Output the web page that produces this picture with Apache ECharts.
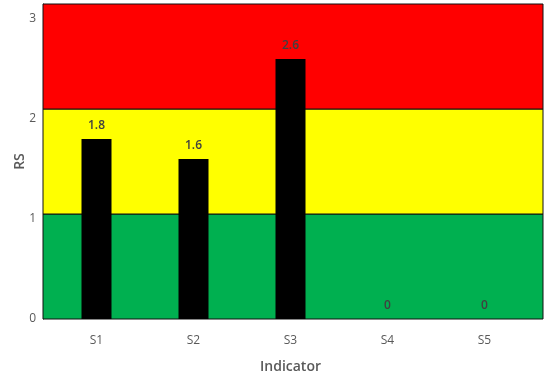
<!DOCTYPE html>
<html>
<head>
<meta charset="utf-8">
<script src="https://cdn.jsdelivr.net/npm/echarts@6/dist/echarts.min.js"></script>
<style>
  html, body { margin: 0; padding: 0; background: #fff; }
  #chart { width: 545px; height: 373px; }
</style>
</head>
<body>
<div id="chart"></div>
<script>
// Indicator scores
const categories = ['S1', 'S2', 'S3', 'S4', 'S5'];
const rsValues = [1.8, 1.6, 2.6, 0, 0];

// Rating bands (low / medium / high) and the value axis range
const bandEdges = [0, 1.05, 2.1, 3.15];
const bandColors = ['#00B050', '#FFFF00', '#FF0000'];
const yTicks = [0, 1, 2, 3];

const FONT = 'Open Sans';
const AXIS_GREY = '#595959';

const bandAreas = bandColors.map((c, i) => [
  { yAxis: bandEdges[i], itemStyle: { color: c } },
  { yAxis: bandEdges[i + 1] }
]);

const chart = echarts.init(document.getElementById('chart'), null, { renderer: 'canvas' });
chart.setOption({
  animation: false,
  textStyle: { fontFamily: FONT },
  grid: [
    { left: 43, right: 2, top: 4, bottom: 54, containLabel: false, outerBoundsMode: 'none' },
    { left: 48, right: 12, top: 4, bottom: 54, containLabel: false, outerBoundsMode: 'none' }
  ],
  xAxis: [
    { gridIndex: 0, type: 'value', min: 0, max: 1, show: false },
    {
      gridIndex: 1, type: 'category', data: categories,
      axisLine: { show: false }, axisTick: { show: false },
      axisLabel: { color: AXIS_GREY, fontSize: 12, margin: 16, fontFamily: FONT },
      name: 'Indicator', nameLocation: 'middle', nameGap: 41,
      nameTextStyle: { color: AXIS_GREY, fontSize: 14, fontWeight: 600, fontFamily: FONT }
    }
  ],
  yAxis: [
    {
      gridIndex: 0, type: 'value', min: bandEdges[0], max: bandEdges[3], interval: 1,
      splitLine: { show: false },
      axisLine: { show: true, lineStyle: { color: '#222', width: 1 } },
      axisTick: { show: false },
      axisLabel: {
        color: AXIS_GREY, fontSize: 12, margin: 7, fontFamily: FONT, showMaxLabel: false,
        formatter: v => (yTicks.includes(v) ? String(v) : '')
      },
      name: 'RS', nameLocation: 'middle', nameGap: 16, nameRotate: 90, nameMoveOverlap: false,
      nameTextStyle: { color: AXIS_GREY, fontSize: 14, fontWeight: 600, fontFamily: FONT }
    },
    { gridIndex: 1, type: 'value', min: bandEdges[0], max: bandEdges[3], show: false }
  ],
  series: [
    {
      type: 'line', xAxisIndex: 0, yAxisIndex: 0, data: [], silent: true, z: 1,
      markArea: {
        silent: true,
        itemStyle: { borderColor: '#111', borderWidth: 1 },
        data: bandAreas
      }
    },
    {
      type: 'bar', xAxisIndex: 1, yAxisIndex: 1, data: rsValues, z: 5,
      barWidth: 30,
      itemStyle: { color: '#000' },
      label: {
        show: true, position: 'top', distance: 7,
        color: '#404040', fontSize: 12, fontWeight: 600, fontFamily: FONT
      }
    }
  ]
});
</script>
</body>
</html>
